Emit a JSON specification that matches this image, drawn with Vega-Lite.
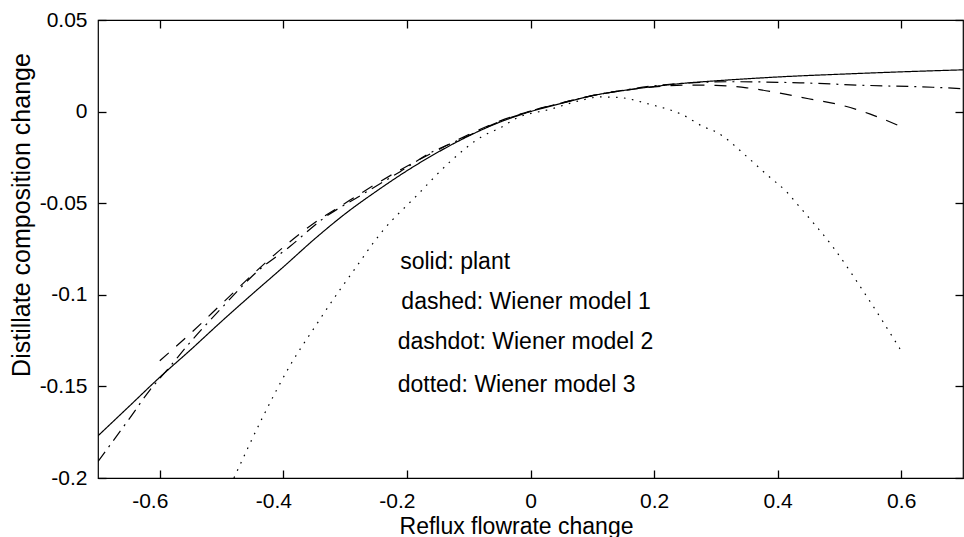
{
  "$schema": "https://vega.github.io/schema/vega-lite/v6.json",
  "width": 865,
  "height": 458,
  "autosize": {"type": "none"},
  "padding": {"left": 98, "top": 20, "right": 1, "bottom": 59},
  "background": "white",
  "config": {
    "view": {"stroke": "black", "strokeWidth": 1.2},
    "axis": {
      "domain": false, "ticks": true, "tickColor": "black", "tickOpacity": 1, "labelColor": "black", "titleColor": "black",
      "labelFont": "Liberation Sans", "titleFont": "Liberation Sans",
      "grid": false, "labelFontSize": 21, "titleFontSize": 23, "titleFontWeight": "normal",
      "tickSize": 8, "tickWidth": 1.3, "offset": -8, "zindex": 2
    }
  },
  "datasets": {
    "curves": [
      {"model": "plant", "x": -0.70, "y": -0.177},
      {"model": "plant", "x": -0.65, "y": -0.161},
      {"model": "plant", "x": -0.60, "y": -0.145},
      {"model": "plant", "x": -0.55, "y": -0.130},
      {"model": "plant", "x": -0.50, "y": -0.1145},
      {"model": "plant", "x": -0.45, "y": -0.0995},
      {"model": "plant", "x": -0.40, "y": -0.0848},
      {"model": "plant", "x": -0.35, "y": -0.0697},
      {"model": "plant", "x": -0.30, "y": -0.0558},
      {"model": "plant", "x": -0.25, "y": -0.0436},
      {"model": "plant", "x": -0.20, "y": -0.0323},
      {"model": "plant", "x": -0.15, "y": -0.0222},
      {"model": "plant", "x": -0.10, "y": -0.0133},
      {"model": "plant", "x": -0.05, "y": -0.0058},
      {"model": "plant", "x": 0.00, "y": 0.0},
      {"model": "plant", "x": 0.05, "y": 0.0045},
      {"model": "plant", "x": 0.10, "y": 0.0087},
      {"model": "plant", "x": 0.15, "y": 0.0115},
      {"model": "plant", "x": 0.20, "y": 0.0137},
      {"model": "plant", "x": 0.25, "y": 0.0155},
      {"model": "plant", "x": 0.30, "y": 0.0168},
      {"model": "plant", "x": 0.35, "y": 0.0179},
      {"model": "plant", "x": 0.40, "y": 0.0189},
      {"model": "plant", "x": 0.50, "y": 0.0204},
      {"model": "plant", "x": 0.60, "y": 0.0217},
      {"model": "plant", "x": 0.70, "y": 0.0228},

      {"model": "Wiener model 1", "x": -0.60, "y": -0.136},
      {"model": "Wiener model 1", "x": -0.55, "y": -0.121},
      {"model": "Wiener model 1", "x": -0.50, "y": -0.105},
      {"model": "Wiener model 1", "x": -0.45, "y": -0.089},
      {"model": "Wiener model 1", "x": -0.40, "y": -0.074},
      {"model": "Wiener model 1", "x": -0.35, "y": -0.0608},
      {"model": "Wiener model 1", "x": -0.30, "y": -0.050},
      {"model": "Wiener model 1", "x": -0.25, "y": -0.0395},
      {"model": "Wiener model 1", "x": -0.20, "y": -0.0298},
      {"model": "Wiener model 1", "x": -0.15, "y": -0.021},
      {"model": "Wiener model 1", "x": -0.10, "y": -0.0125},
      {"model": "Wiener model 1", "x": -0.05, "y": -0.0052},
      {"model": "Wiener model 1", "x": 0.00, "y": 0.0003},
      {"model": "Wiener model 1", "x": 0.05, "y": 0.0047},
      {"model": "Wiener model 1", "x": 0.10, "y": 0.0087},
      {"model": "Wiener model 1", "x": 0.15, "y": 0.0115},
      {"model": "Wiener model 1", "x": 0.20, "y": 0.0135},
      {"model": "Wiener model 1", "x": 0.25, "y": 0.0145},
      {"model": "Wiener model 1", "x": 0.30, "y": 0.0143},
      {"model": "Wiener model 1", "x": 0.35, "y": 0.0130},
      {"model": "Wiener model 1", "x": 0.40, "y": 0.0103},
      {"model": "Wiener model 1", "x": 0.45, "y": 0.0070},
      {"model": "Wiener model 1", "x": 0.50, "y": 0.0038},
      {"model": "Wiener model 1", "x": 0.55, "y": -0.0014},
      {"model": "Wiener model 1", "x": 0.60, "y": -0.0082},

      {"model": "Wiener model 2", "x": -0.70, "y": -0.191},
      {"model": "Wiener model 2", "x": -0.648, "y": -0.167},
      {"model": "Wiener model 2", "x": -0.616, "y": -0.152},
      {"model": "Wiener model 2", "x": -0.588, "y": -0.141},
      {"model": "Wiener model 2", "x": -0.551, "y": -0.126},
      {"model": "Wiener model 2", "x": -0.498, "y": -0.1065},
      {"model": "Wiener model 2", "x": -0.443, "y": -0.0875},
      {"model": "Wiener model 2", "x": -0.389, "y": -0.0735},
      {"model": "Wiener model 2", "x": -0.336, "y": -0.0585},
      {"model": "Wiener model 2", "x": -0.276, "y": -0.046},
      {"model": "Wiener model 2", "x": -0.211, "y": -0.0328},
      {"model": "Wiener model 2", "x": -0.158, "y": -0.0218},
      {"model": "Wiener model 2", "x": -0.119, "y": -0.016},
      {"model": "Wiener model 2", "x": -0.05, "y": -0.0055},
      {"model": "Wiener model 2", "x": 0.00, "y": 0.0003},
      {"model": "Wiener model 2", "x": 0.05, "y": 0.0047},
      {"model": "Wiener model 2", "x": 0.10, "y": 0.0087},
      {"model": "Wiener model 2", "x": 0.15, "y": 0.0117},
      {"model": "Wiener model 2", "x": 0.221, "y": 0.0148},
      {"model": "Wiener model 2", "x": 0.327, "y": 0.0163},
      {"model": "Wiener model 2", "x": 0.436, "y": 0.0157},
      {"model": "Wiener model 2", "x": 0.544, "y": 0.0143},
      {"model": "Wiener model 2", "x": 0.651, "y": 0.0133},
      {"model": "Wiener model 2", "x": 0.70, "y": 0.0125},

      {"model": "Wiener model 3", "x": -0.48, "y": -0.2},
      {"model": "Wiener model 3", "x": -0.433, "y": -0.1665},
      {"model": "Wiener model 3", "x": -0.389, "y": -0.1385},
      {"model": "Wiener model 3", "x": -0.345, "y": -0.1155},
      {"model": "Wiener model 3", "x": -0.308, "y": -0.097},
      {"model": "Wiener model 3", "x": -0.292, "y": -0.0895},
      {"model": "Wiener model 3", "x": -0.239, "y": -0.065},
      {"model": "Wiener model 3", "x": -0.184, "y": -0.0458},
      {"model": "Wiener model 3", "x": -0.130, "y": -0.0273},
      {"model": "Wiener model 3", "x": -0.077, "y": -0.0133},
      {"model": "Wiener model 3", "x": -0.0495, "y": -0.0089},
      {"model": "Wiener model 3", "x": -0.022, "y": -0.0035},
      {"model": "Wiener model 3", "x": 0.031, "y": 0.0012},
      {"model": "Wiener model 3", "x": 0.08, "y": 0.0060},
      {"model": "Wiener model 3", "x": 0.112, "y": 0.0080},
      {"model": "Wiener model 3", "x": 0.140, "y": 0.0078},
      {"model": "Wiener model 3", "x": 0.193, "y": 0.0040},
      {"model": "Wiener model 3", "x": 0.247, "y": -0.0019},
      {"model": "Wiener model 3", "x": 0.279, "y": -0.0081},
      {"model": "Wiener model 3", "x": 0.302, "y": -0.0114},
      {"model": "Wiener model 3", "x": 0.350, "y": -0.0245},
      {"model": "Wiener model 3", "x": 0.382, "y": -0.0343},
      {"model": "Wiener model 3", "x": 0.415, "y": -0.044},
      {"model": "Wiener model 3", "x": 0.436, "y": -0.0522},
      {"model": "Wiener model 3", "x": 0.489, "y": -0.0737},
      {"model": "Wiener model 3", "x": 0.544, "y": -0.1008},
      {"model": "Wiener model 3", "x": 0.598, "y": -0.1295}
    ],
    "notes": [
      {"x": -0.211, "y": -0.082, "label": "solid: plant"},
      {"x": -0.209, "y": -0.104, "label": "dashed: Wiener model 1"},
      {"x": -0.215, "y": -0.1258, "label": "dashdot: Wiener model 2"},
      {"x": -0.215, "y": -0.149, "label": "dotted: Wiener model 3"}
    ]
  },
  "layer": [
    {
      "data": {"name": "curves"},
      "mark": {"type": "line", "strokeWidth": 1.2, "color": "black", "clip": true, "interpolate": "monotone"},
      "encoding": {
        "x": {
          "field": "x", "type": "quantitative",
          "scale": {"domain": [-0.7, 0.7], "nice": false, "zero": false},
          "axis": {
            "orient": "bottom", "values": [-0.6, -0.4, -0.2, 0, 0.2, 0.4, 0.6],
            "labelExpr": "toString(datum.value)", "labelPadding": 12,
            "labelOffset": {"condition": {"test": "datum.value < 0", "value": -10}, "value": 0},
            "title": "Reflux flowrate change", "titleX": 418, "titleY": 63,
            "titleBaseline": "alphabetic", "titleAlign": "center"
          }
        },
        "y": {
          "field": "y", "type": "quantitative",
          "scale": {"domain": [-0.2, 0.05], "nice": false, "zero": false},
          "axis": {
            "orient": "left", "values": [-0.2, -0.15, -0.1, -0.05, 0, 0.05],
            "labelExpr": "toString(datum.value)", "labelPadding": 11,
            "title": "Distillate composition change", "titleFontSize": 25,
            "titleX": -77, "titleY": 194.5, "titleAngle": -90,
            "titleBaseline": "alphabetic", "titleAlign": "center"
          }
        },
        "strokeDash": {
          "field": "model", "type": "nominal",
          "scale": {
            "domain": ["plant", "Wiener model 1", "Wiener model 2", "Wiener model 3"],
            "range": [[1, 0], [12, 10], [12, 6, 2, 6], [1.6, 6.4]]
          },
          "legend": null
        }
      }
    },
    {
      "data": {"name": "notes"},
      "mark": {"type": "text", "align": "left", "baseline": "middle", "font": "Liberation Sans", "fontSize": 23, "color": "black"},
      "encoding": {
        "x": {
          "field": "x", "type": "quantitative",
          "axis": {"orient": "top", "values": [-0.6, -0.4, -0.2, 0, 0.2, 0.4, 0.6], "labels": false, "title": null}
        },
        "y": {
          "field": "y", "type": "quantitative",
          "axis": {"orient": "right", "values": [-0.2, -0.15, -0.1, -0.05, 0, 0.05], "labels": false, "title": null}
        },
        "text": {"field": "label"}
      }
    }
  ],
  "resolve": {"axis": {"x": "independent", "y": "independent"}}
}
